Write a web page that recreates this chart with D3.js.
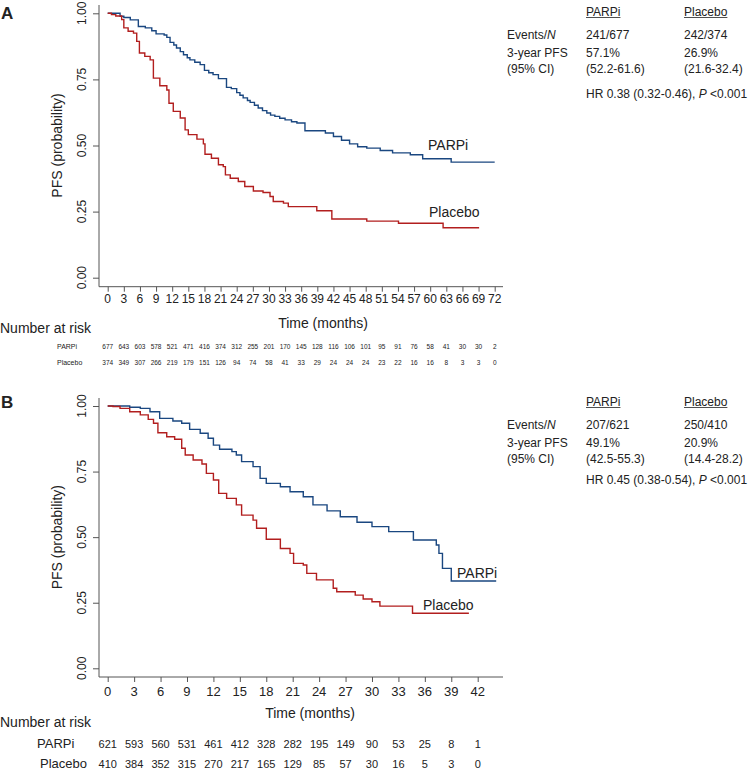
<!DOCTYPE html>
<html>
<head>
<meta charset="utf-8">
<script src="https://cdn.jsdelivr.net/npm/d3@7"></script>
<style>
  body { margin: 0; background: #fff; }
  svg { font-family: "Liberation Sans", Arial, sans-serif; }
</style>
</head>
<body>
<svg id="chart" width="748" height="772"></svg>
<script>
// Panel A: Kaplan-Meier steps (time in months, PFS after the step)
const aParpiT = [0, 2.3, 3.0, 4.2, 5.7, 7.0, 8.2, 9.0, 10.5, 11.0, 11.6, 12.3, 12.8, 13.5, 14.1, 14.8, 15.3, 16.2, 17.2, 18.0, 18.8, 19.6, 20.6, 22.1, 23.0, 24.0, 24.6, 25.2, 26.0, 26.5, 27.3, 28.0, 28.8, 29.6, 30.3, 31.1, 32.0, 33.0, 34.2, 35.2, 36.7, 40.5, 42.0, 43.5, 45.0, 46.5, 48.2, 50.7, 53.0, 56.3, 58.6, 63.9, 72];
const aParpiS = [1, 0.989, 0.984, 0.975, 0.95, 0.945, 0.934, 0.922, 0.918, 0.909, 0.89, 0.88, 0.869, 0.855, 0.843, 0.832, 0.824, 0.815, 0.806, 0.784, 0.775, 0.768, 0.753, 0.72, 0.715, 0.70, 0.69, 0.68, 0.67, 0.663, 0.652, 0.642, 0.632, 0.623, 0.615, 0.61, 0.603, 0.597, 0.59, 0.585, 0.556, 0.547, 0.534, 0.52, 0.506, 0.495, 0.49, 0.481, 0.472, 0.465, 0.45, 0.437, 0.437];
const aPlacT = [0, 0.7, 1.5, 2.6, 3.0, 3.8, 4.8, 5.4, 5.9, 6.9, 7.9, 8.5, 9.7, 11.0, 11.4, 12.2, 13.5, 14.4, 15.0, 16.6, 17.8, 18.1, 19.3, 20.6, 21.5, 21.9, 22.8, 24.3, 25.5, 27.1, 28.9, 30.2, 30.8, 32.7, 33.6, 38.9, 41.7, 48.2, 54.1, 62.4, 69.1];
const aPlacS = [1, 0.995, 0.99, 0.976, 0.945, 0.932, 0.925, 0.894, 0.85, 0.837, 0.824, 0.755, 0.726, 0.71, 0.66, 0.629, 0.604, 0.559, 0.541, 0.524, 0.506, 0.467, 0.452, 0.427, 0.42, 0.389, 0.376, 0.364, 0.345, 0.328, 0.322, 0.307, 0.288, 0.282, 0.269, 0.253, 0.222, 0.214, 0.206, 0.189, 0.189];
const aRiskParpi = [677, 643, 603, 578, 521, 471, 416, 374, 312, 255, 201, 170, 145, 128, 116, 106, 101, 95, 91, 76, 58, 41, 30, 30, 2];
const aRiskPlac = [374, 349, 307, 266, 219, 179, 151, 126, 94, 74, 58, 41, 33, 29, 24, 24, 24, 23, 22, 16, 16, 8, 3, 3, 0];
const aStats = [["Events/", "N", "241/677", "242/374"], ["3-year PFS", "", "57.1%", "26.9%"], ["(95% CI)", "", "(52.2-61.6)", "(21.6-32.4)"]];
const aHR = ["HR 0.38 (0.32-0.46), ", "P", " <0.001"];

// Panel B
const bParpiT = [0, 2.5, 3.7, 4.8, 5.9, 7.4, 8.4, 9.3, 10.5, 11.4, 12.0, 12.7, 14.1, 14.6, 15.2, 16.5, 17.3, 18.0, 19.6, 20.7, 22.2, 23.3, 24.9, 26.4, 28.3, 30.0, 31.9, 34.7, 37.3, 37.6, 38.0, 39.0, 44.1];
const bParpiS = [1, 0.995, 0.991, 0.978, 0.953, 0.943, 0.934, 0.911, 0.896, 0.877, 0.851, 0.835, 0.826, 0.813, 0.788, 0.769, 0.724, 0.705, 0.692, 0.673, 0.654, 0.623, 0.60, 0.578, 0.557, 0.54, 0.521, 0.489, 0.47, 0.438, 0.381, 0.333, 0.333];
const bPlacT = [0, 0.6, 1.4, 2.5, 3.7, 4.6, 5.2, 5.7, 6.7, 7.6, 8.4, 8.8, 9.7, 10.7, 11.2, 12.0, 12.6, 13.5, 14.6, 15.2, 16.5, 16.9, 18.0, 19.6, 20.7, 21.1, 22.2, 22.6, 23.7, 25.6, 26.0, 28.1, 29.0, 30.0, 30.9, 34.6, 41.0];
const bPlacS = [1, 0.998, 0.991, 0.978, 0.966, 0.949, 0.934, 0.898, 0.883, 0.873, 0.839, 0.813, 0.794, 0.779, 0.743, 0.718, 0.667, 0.648, 0.623, 0.584, 0.565, 0.534, 0.492, 0.457, 0.438, 0.40, 0.394, 0.362, 0.337, 0.305, 0.292, 0.279, 0.264, 0.254, 0.237, 0.21, 0.21];
const bRiskParpi = [621, 593, 560, 531, 461, 412, 328, 282, 195, 149, 90, 53, 25, 8, 1];
const bRiskPlac = [410, 384, 352, 315, 270, 217, 165, 129, 85, 57, 30, 16, 5, 3, 0];
const bStats = [["Events/", "N", "207/621", "250/410"], ["3-year PFS", "", "49.1%", "20.9%"], ["(95% CI)", "", "(42.5-55.3)", "(14.4-28.2)"]];
const bHR = ["HR 0.45 (0.38-0.54), ", "P", " <0.001"];

const yTicks = [0, 0.25, 0.5, 0.75, 1];
const groups = ["PARPi", "Placebo"];
const colors = ["#1a4780", "#b21e1e"];

const svg = d3.select("#chart");
const ink = "#222";

function drawPanel(p) {
  const g = svg.append("g");
  const x = d3.scaleLinear().domain([0, p.xMax]).range([107.7, p.xRight]);
  const y = d3.scaleLinear().domain([0, 1]).range([p.y0, p.y1]);

  // panel letter
  g.append("text").attr("x", 1).attr("y", p.letterY)
    .style("font-size", "17px").style("font-weight", "bold").attr("fill", ink).text(p.letter);

  // y axis
  const yAx = g.append("g").attr("transform", "translate(99,0)")
    .call(d3.axisLeft(y).tickValues(yTicks).tickSize(6).tickFormat(""));
  yAx.select(".domain").remove();
  yAx.selectAll("line").attr("stroke", "#555");
  g.append("line").attr("x1", 99).attr("x2", 99).attr("y1", p.yTop).attr("y2", p.axisY)
    .attr("stroke", "#555");
  g.selectAll(".ylab").data(yTicks).join("text")
    .attr("transform", d => `translate(82,${y(d)}) rotate(-90)`)
    .attr("text-anchor", "middle").attr("dy", "0.35em")
    .style("font-size", "12px").attr("fill", ink)
    .text(d3.format(".2f"));
  g.append("text")
    .attr("transform", `translate(57,${(p.y0 + p.y1) / 2}) rotate(-90)`)
    .attr("text-anchor", "middle").attr("dy", "0.35em")
    .style("font-size", "14px").attr("fill", ink).text("PFS (probability)");

  // x axis
  const xTicks = d3.range(0, p.xMax + 1, 3);
  const xAx = g.append("g").attr("transform", `translate(0,${p.axisY})`)
    .call(d3.axisBottom(x).tickValues(xTicks).tickSize(5).tickFormat(""));
  xAx.select(".domain").remove();
  xAx.selectAll("line").attr("stroke", "#555");
  g.append("line").attr("x1", 99).attr("x2", 503).attr("y1", p.axisY).attr("y2", p.axisY)
    .attr("stroke", "#555");
  g.selectAll(".xlab").data(xTicks).join("text")
    .attr("x", d => x(d)).attr("y", p.axisY + p.xLabDy)
    .attr("text-anchor", "middle").style("font-size", p.xLabSize + "px").attr("fill", ink)
    .text(d => d);
  g.append("text").attr("x", p.titleX).attr("y", p.titleY).attr("text-anchor", "middle")
    .style("font-size", "14px").attr("fill", ink).text("Time (months)");

  // curves
  const line = d3.line().x(d => x(d[0])).y(d => y(d[1])).curve(d3.curveStepAfter);
  p.series.forEach((s, i) => {
    g.append("path").datum(d3.zip(s.t, s.s))
      .attr("fill", "none").attr("stroke", colors[i]).attr("stroke-width", 1.4)
      .attr("d", line);
    g.append("text").attr("x", s.lx).attr("y", s.ly)
      .style("font-size", "14px").attr("fill", ink).text(groups[i]);
  });

  // stats block
  const cols = [507, 586, 684];
  groups.forEach((name, i) => {
    const t = g.append("text").attr("x", cols[i + 1]).attr("y", p.statY[0])
      .style("font-size", "12px").attr("fill", ink).text(name);
    const w = t.node().getComputedTextLength();
    g.append("line").attr("x1", cols[i + 1]).attr("x2", cols[i + 1] + w)
      .attr("y1", p.statY[0] + 1.5).attr("y2", p.statY[0] + 1.5)
      .attr("stroke", ink).attr("stroke-width", 0.8);
  });
  p.stats.forEach((row, r) => {
    const yy = p.statY[r + 1];
    const t = g.append("text").attr("x", cols[0]).attr("y", yy)
      .style("font-size", "12px").attr("fill", ink);
    t.append("tspan").text(row[0]);
    if (row[1]) t.append("tspan").style("font-style", "italic").text(row[1]);
    g.append("text").attr("x", cols[1]).attr("y", yy).style("font-size", "12px").attr("fill", ink).text(row[2]);
    g.append("text").attr("x", cols[2]).attr("y", yy).style("font-size", "12px").attr("fill", ink).text(row[3]);
  });
  const hr = g.append("text").attr("x", cols[1]).attr("y", p.statY[4])
    .style("font-size", "12px").attr("fill", ink);
  hr.append("tspan").text(p.hr[0]);
  hr.append("tspan").style("font-style", "italic").text(p.hr[1]);
  hr.append("tspan").text(p.hr[2]);

  // number at risk
  g.append("text").attr("x", 0).attr("y", p.nrY)
    .style("font-size", "14px").attr("fill", ink).text("Number at risk");
  p.risk.forEach((vals, i) => {
    g.append("text").attr("x", p.riskLabX[i]).attr("y", p.riskY[i])
      .style("font-size", p.riskLabSize + "px").attr("fill", ink).text(groups[i]);
    g.selectAll(null).data(vals).join("text")
      .attr("x", (d, j) => x(j * 3)).attr("y", p.riskY[i])
      .attr("text-anchor", "middle").style("font-size", p.riskSize + "px").attr("fill", ink)
      .text(d => d);
  });
}

drawPanel({
  letter: "A", letterY: 19, xMax: 72, xRight: 494.7, y0: 277.7, y1: 13.3, yTop: 5, axisY: 286.7,
  xLabDy: 16, xLabSize: 12, titleX: 323, titleY: 328,
  series: [
    { t: aParpiT, s: aParpiS, lx: 428, ly: 150 },
    { t: aPlacT, s: aPlacS, lx: 429, ly: 217 }
  ],
  stats: aStats, hr: aHR, statY: [16, 39.3, 56.6, 73.3, 97.6],
  nrY: 333, risk: [aRiskParpi, aRiskPlac], riskY: [348.5, 364.5], riskLabX: [57, 57],
  riskLabSize: 7, riskSize: 6.5
});

drawPanel({
  letter: "B", letterY: 408, xMax: 42, xRight: 477.7, y0: 668.3, y1: 406, yTop: 398, axisY: 677,
  xLabDy: 18.5, xLabSize: 13, titleX: 310, titleY: 717.5,
  series: [
    { t: bParpiT, s: bParpiS, lx: 457, ly: 578 },
    { t: bPlacT, s: bPlacS, lx: 423, ly: 610 }
  ],
  stats: bStats, hr: bHR, statY: [406, 429.3, 446.6, 463.3, 484.3],
  nrY: 726.5, risk: [bRiskParpi, bRiskPlac], riskY: [747.5, 767.5], riskLabX: [37, 40],
  riskLabSize: 13, riskSize: 11
});
</script>
</body>
</html>
